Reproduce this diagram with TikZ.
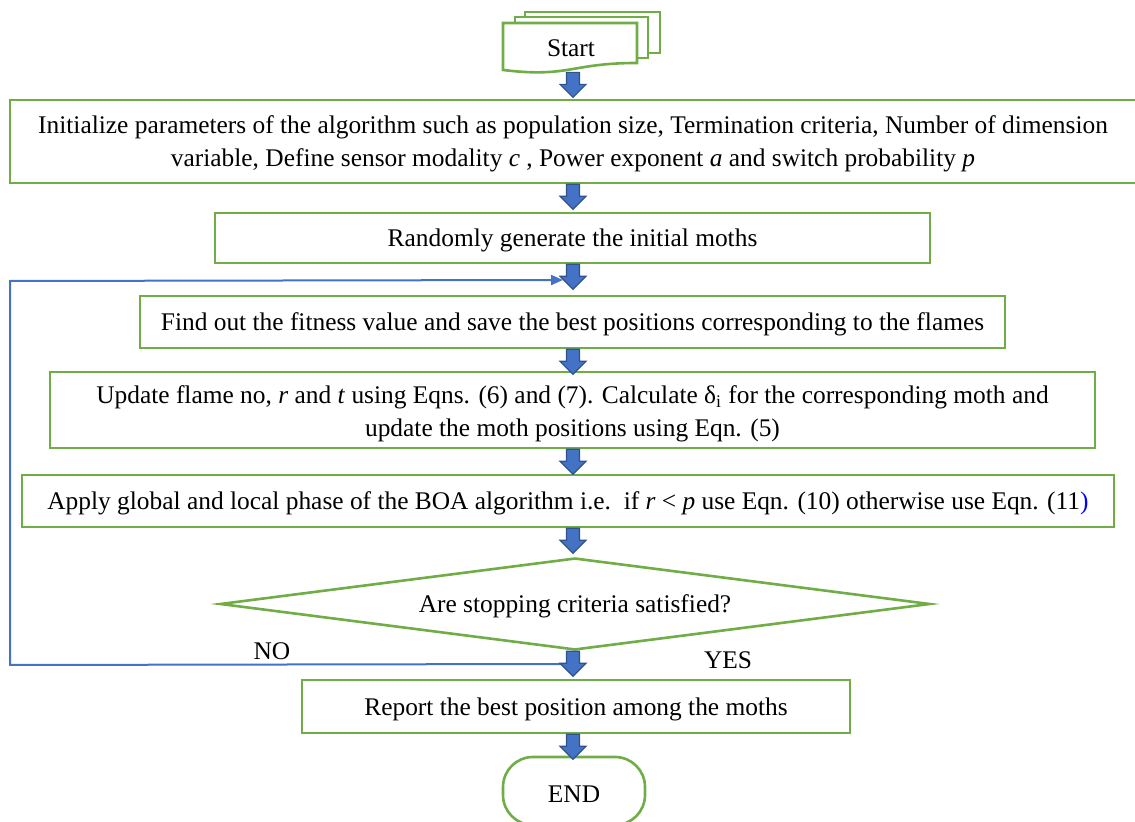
\documentclass[tikz,border=0pt]{standalone}
\usepackage{fontspec}
\setmainfont{Liberation Serif}
\usetikzlibrary{arrows.meta,shapes.geometric}
\definecolor{boxgreen}{HTML}{70AD47}
\definecolor{arrowblue}{HTML}{4472C4}
\definecolor{arrowedge}{HTML}{2F528F}

\begin{document}
\begin{tikzpicture}[x=0.5pt,y=-0.5pt,stepbox/.style={rectangle,draw=boxgreen,line width=1.3pt,fill=white,inner sep=0pt,align=center,text height=11.5pt,font=\fontsize{12.7}{16.5}\selectfont},decision/.style={diamond,draw=boxgreen,line width=1.3pt,fill=white,inner sep=0pt,aspect=7.7,text height=11pt,font=\fontsize{12.7}{16.5}\selectfont},sheet/.style={draw=boxgreen,line width=1.3pt,fill=white},blockarrow/.style={fill=arrowblue,draw=arrowedge,line width=0.6pt},loopline/.style={draw=arrowblue,line width=1pt},tag/.style={inner sep=0pt,font=\fontsize{12.7}{16.5}\selectfont}]
\useasboundingbox (0,0) rectangle (1135,822);
\clip (0,0) rectangle (1135,822);
\coordinate (axis) at (573,0);
\draw[sheet] (525,12) rectangle (660,53);
\draw[sheet] (515,17) rectangle (648,58);
\draw[sheet] (503,23) -- (637,23) -- (637,63) .. controls (570,63) and (570,78) .. (503,70) -- cycle;
\node[tag,minimum height=25pt,text height=10pt] (start) at (571,47) {Start};
\node[stepbox,minimum width=563pt,minimum height=41.5pt,text height=28pt] (init) at (573,141.5) {Initialize parameters of the algorithm such as population size, Termination criteria, Number of dimension\\variable, Define sensor modality \textit{c} , Power exponent \textit{a} and switch probability \textit{p}};
\node[stepbox,minimum width=357.5pt,minimum height=25pt] (rand) at (572.5,238) {Randomly generate the initial moths};
\node[stepbox,minimum width=432.5pt,minimum height=26pt] (fit) at (572.5,322) {Find out the fitness value and save the best positions corresponding to the flames};
\node[stepbox,minimum width=522.5pt,minimum height=38pt,text height=29.5pt] (upd) at (572.5,410) {Update flame no, \textit{r} and \textit{t} using Eqns. (6) and (7). Calculate δ\textsubscript{i} for the corresponding moth and\\update the moth positions using Eqn. (5)};
\node[stepbox,minimum width=546pt,minimum height=26pt] (boa) at (568,501) {Apply global and local phase of the BOA algorithm i.e.\ \ if \textit{r} < \textit{p} use Eqn. (10) otherwise use Eqn. (11\textcolor{blue}{)}};
\node[decision,minimum width=355pt,minimum height=46pt] (crit) at (575,604) {Are stopping criteria satisfied?};
\node[stepbox,minimum width=274pt,minimum height=26.5pt] (rep) at (576,706.5) {Report the best position among the moths};
\node[stepbox,minimum width=71pt,minimum height=34pt,rounded corners=15pt] (end) at (574,791) {END};
\node[tag] (no) at (272,651) {NO};
\node[tag] (yes) at (728,660) {YES};
% loop back
\coordinate (loopstart) at (566,664);
\coordinate (loopbottom) at (10,665);
\coordinate (looptop) at (10,281);
\coordinate (loopend) at (563,280);
\draw[loopline,-{Triangle[length=6pt,width=5pt]}] (loopstart) -- (loopbottom) -- (looptop) -- (loopend);
% block arrows
\draw[blockarrow] (start.south -| axis) +(-6.5,0) -- +(-6.5,12) -- +(-13,12) -- +(0,25) -- +(13,12) -- +(6.5,12) -- +(6.5,0) -- cycle;
\draw[blockarrow] (init.south -| axis) +(-6.5,0) -- +(-6.5,12) -- +(-13,12) -- +(0,25) -- +(13,12) -- +(6.5,12) -- +(6.5,0) -- cycle;
\draw[blockarrow] (rand.south -| axis) +(-6.5,0) -- +(-6.5,12) -- +(-13,12) -- +(0,25) -- +(13,12) -- +(6.5,12) -- +(6.5,0) -- cycle;
\draw[blockarrow] (fit.south -| axis) +(-6.5,0) -- +(-6.5,12) -- +(-13,12) -- +(0,25) -- +(13,12) -- +(6.5,12) -- +(6.5,0) -- cycle;
\draw[blockarrow] (upd.south -| axis) +(-6.5,0) -- +(-6.5,12) -- +(-13,12) -- +(0,25) -- +(13,12) -- +(6.5,12) -- +(6.5,0) -- cycle;
\draw[blockarrow] (boa.south -| axis) +(-6.5,0) -- +(-6.5,12) -- +(-13,12) -- +(0,25) -- +(13,12) -- +(6.5,12) -- +(6.5,0) -- cycle;
\draw[blockarrow] (crit.south -| axis) +(-6.5,0) -- +(-6.5,12) -- +(-13,12) -- +(0,25) -- +(13,12) -- +(6.5,12) -- +(6.5,0) -- cycle;
\draw[blockarrow] (rep.south -| axis) +(-6.5,0) -- +(-6.5,12) -- +(-13,12) -- +(0,25) -- +(13,12) -- +(6.5,12) -- +(6.5,0) -- cycle;
\end{tikzpicture}
\end{document}
